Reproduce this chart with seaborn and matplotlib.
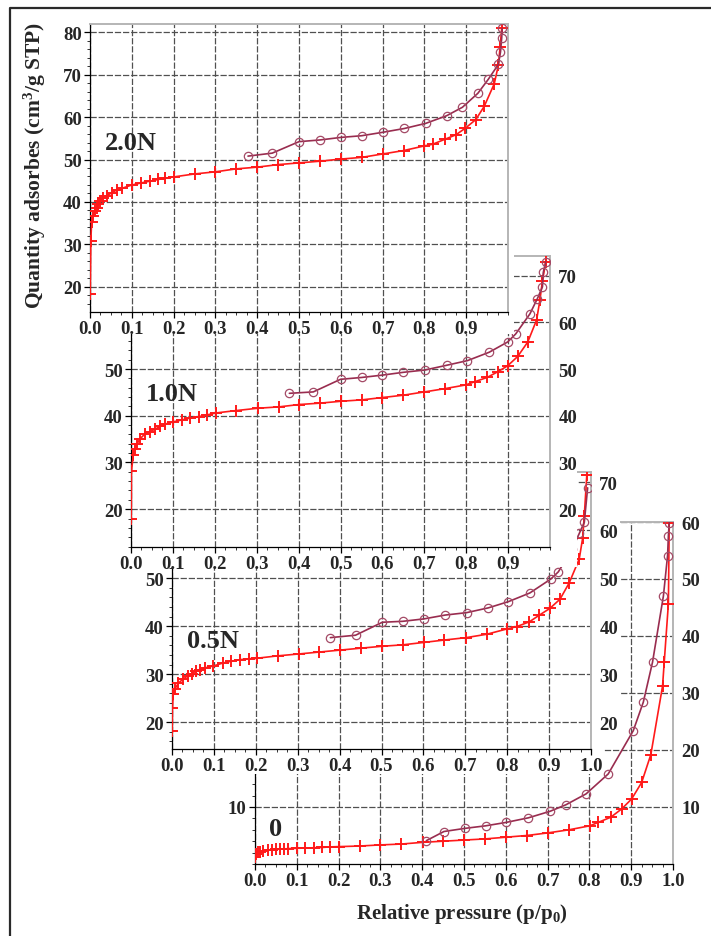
import matplotlib
matplotlib.use("Agg")
import matplotlib.pyplot as plt
from matplotlib.patches import Polygon
from matplotlib.lines import Line2D
from matplotlib.ticker import MultipleLocator, FormatStrFormatter, FixedLocator
import seaborn as sns

# ---- data: relative pressure p/p0 and quantity adsorbed (cm3/g STP) ----
p_ads_20 = [0.0005, 0.002, 0.004, 0.008, 0.012, 0.016, 0.02, 0.024, 0.03, 0.04, 0.053, 0.065,
            0.076, 0.1, 0.123, 0.143, 0.163, 0.18, 0.2, 0.25, 0.3, 0.35, 0.4, 0.45, 0.5, 0.55,
            0.6, 0.65, 0.7, 0.75, 0.8, 0.82, 0.85, 0.875, 0.897, 0.923, 0.943, 0.967, 0.977,
            0.981, 0.985]
v_ads_20 = [18.4, 30.9, 35.4, 36.8, 37.8, 38.7, 39.5, 40.3, 40.9, 41.5, 42.2, 42.9,
            43.2, 44.0, 44.5, 44.9, 45.3, 45.6, 45.9, 46.6, 47.1, 47.8, 48.2, 48.8, 49.2, 49.6,
            50.1, 50.5, 51.3, 52.1, 53.2, 53.6, 54.8, 55.8, 57.3, 59.4, 62.5, 67.8, 72.2,
            76.4, 80.9]
p_des_20 = [0.378, 0.436, 0.5, 0.55, 0.6, 0.65, 0.7, 0.752, 0.803, 0.853, 0.891, 0.928,
            0.953, 0.977, 0.982, 0.985, 0.986]
v_des_20 = [50.8, 51.5, 54.2, 54.6, 55.2, 55.6, 56.4, 57.3, 58.5, 60.3, 62.3, 65.6,
            68.9, 72.4, 75.3, 78.7, 80.9]

p_ads_10 = [0.0005, 0.001, 0.0055, 0.01, 0.014, 0.021, 0.033, 0.045, 0.057, 0.069, 0.081,
            0.101, 0.121, 0.141, 0.162, 0.182, 0.203, 0.25, 0.302, 0.353, 0.401, 0.451, 0.501,
            0.551, 0.6, 0.65, 0.7, 0.749, 0.799, 0.821, 0.85, 0.875, 0.899, 0.923, 0.947,
            0.968, 0.976, 0.982, 0.99]
v_ads_10 = [18.0, 28.1, 31.6, 32.9, 33.9, 35.0, 36.1, 36.6, 37.1, 37.7, 38.2,
            38.7, 39.1, 39.5, 39.8, 40.2, 40.6, 41.1, 41.6, 41.9, 42.4, 42.7, 43.1,
            43.4, 43.9, 44.4, 45.1, 45.8, 46.6, 47.3, 48.2, 49.4, 50.7, 52.7, 55.8,
            60.5, 64.8, 68.9, 73.0]
p_des_10 = [0.378, 0.435, 0.5, 0.551, 0.6, 0.65, 0.702, 0.753, 0.803, 0.855, 0.899, 0.918,
            0.952, 0.97, 0.982, 0.984, 0.99]
v_des_10 = [44.8, 45.1, 47.8, 48.2, 48.7, 49.3, 49.8, 50.8, 51.8, 53.6, 55.8, 57.5,
            61.8, 65.1, 67.6, 70.7, 73.0]

p_ads_05 = [0.0005, 0.001, 0.003, 0.007, 0.015, 0.027, 0.037, 0.047, 0.057, 0.067, 0.079,
            0.099, 0.121, 0.142, 0.162, 0.183, 0.202, 0.252, 0.303, 0.352, 0.401, 0.45, 0.502,
            0.551, 0.601, 0.65, 0.702, 0.751, 0.799, 0.823, 0.853, 0.877, 0.902, 0.926, 0.948,
            0.972, 0.98, 0.984, 0.99]
v_ads_05 = [18.2, 22.9, 25.8, 26.9, 28.1, 29.0, 29.6, 30.1, 30.6, 30.9, 31.3,
            31.7, 32.3, 32.7, 33.0, 33.2, 33.3, 33.8, 34.2, 34.6, 35.0, 35.4, 35.8,
            36.1, 36.6, 37.1, 37.6, 38.3, 39.4, 39.9, 40.9, 42.3, 43.7, 45.6, 49.0,
            54.0, 58.3, 63.0, 71.5]
p_des_05 = [0.378, 0.438, 0.502, 0.551, 0.601, 0.652, 0.703, 0.755, 0.803, 0.854, 0.904,
            0.922, 0.955, 0.972, 0.984, 0.992]
v_des_05 = [37.6, 38.1, 40.8, 41.0, 41.5, 42.3, 42.8, 43.8, 45.1, 46.9, 49.8,
            51.3, 56.0, 59.3, 61.6, 68.8]

p_ads_00 = [0.0005, 0.002, 0.008, 0.013, 0.02, 0.03, 0.04, 0.05, 0.06, 0.07, 0.08, 0.1,
            0.12, 0.14, 0.16, 0.18, 0.2, 0.25, 0.3, 0.35, 0.401, 0.45, 0.5, 0.55, 0.6, 0.65,
            0.7, 0.751, 0.801, 0.821, 0.851, 0.877, 0.901, 0.925, 0.947, 0.975, 0.979,
            0.989, 0.991]
v_ads_00 = [1.2, 1.75, 2.05, 2.15, 2.3, 2.45, 2.5, 2.6, 2.6, 2.65, 2.7, 2.75,
            2.8, 2.85, 2.9, 3.0, 3.05, 3.15, 3.35, 3.5, 3.8, 4.0, 4.2, 4.4, 4.7, 5.0,
            5.45, 6.0, 6.7, 7.3, 8.2, 9.65, 11.4, 14.3, 19.2, 31.2, 35.4,
            45.7, 59.9]
p_des_00 = [0.41, 0.452, 0.502, 0.552, 0.601, 0.654, 0.706, 0.744, 0.792, 0.845, 0.905,
            0.929, 0.951, 0.977, 0.987, 0.989, 0.991]
v_des_00 = [4.1, 5.7, 6.25, 6.7, 7.3, 8.1, 9.25, 10.4, 12.3, 15.8, 23.4,
            28.4, 35.4, 47.0, 54.1, 57.6, 59.9]

sample_labels = ["2.0N", "1.0N", "0.5N", "0"]

ADS_COLOR = "#ff1a1a"
DES_COLOR = "#992c4f"
DES_EDGE = "#a44a66"

sns.set_style("white")
plt.rcParams["font.family"] = ["Liberation Serif", "DejaVu Serif"]
plt.rcParams["font.weight"] = "bold"
plt.rcParams["mathtext.fontset"] = "custom"
plt.rcParams["mathtext.rm"] = "Liberation Serif:bold"
plt.rcParams["mathtext.bf"] = "Liberation Serif:bold"
plt.rcParams["mathtext.it"] = "Liberation Serif:bold"

W, H = 711, 937
fig = plt.figure(figsize=(W / 100, H / 100), dpi=100)


def fx(x):
    return x / W


def fy(y):
    return 1 - y / H


def box(x0, y0, x1, y1):
    return [fx(x0), fy(y1), (x1 - x0) / W, (y1 - y0) / H]


def draw_panel(rect, z, p_ads, v_ads, p_des, v_des, ylim, yticks, xmax_tick, right_labels,
               left_max, label, label_xy, cover):
    ax = fig.add_axes(rect)
    ax.set_zorder(z)
    ax.set_facecolor("white")

    sns.lineplot(x=p_ads, y=v_ads, ax=ax, color=ADS_COLOR, lw=1.2, sort=False,
                 estimator=None, marker="+", markersize=9, markeredgewidth=1.4,
                 markeredgecolor=ADS_COLOR, zorder=3)
    sns.lineplot(x=p_des, y=v_des, ax=ax, color=DES_COLOR, lw=1.2, sort=False,
                 estimator=None, marker="o", markersize=6, markeredgewidth=0.9,
                 markeredgecolor=DES_EDGE, markerfacecolor="none", zorder=3)

    ax.set_xlim(0, 1.0)
    ax.set_ylim(*ylim)
    xt = [i / 10 for i in range(int(round(xmax_tick * 10)) + 1)]
    ax.xaxis.set_major_locator(FixedLocator(xt))
    ax.xaxis.set_major_formatter(FormatStrFormatter("%.1f"))
    ax.xaxis.set_minor_locator(MultipleLocator(0.025))
    ax.yaxis.set_major_locator(FixedLocator(yticks))
    ax.yaxis.set_major_formatter(FormatStrFormatter("%d"))
    ax.yaxis.set_minor_locator(MultipleLocator(2))

    ax.grid(True, which="major", color="#505050", linestyle=(0, (5, 1.5)), linewidth=0.9)
    ax.set_axisbelow(True)
    ax.tick_params(axis="both", which="major", direction="out", length=4, width=0.9,
                   color="black", labelsize=13.5, pad=2)
    ax.tick_params(axis="both", which="minor", direction="out", length=2.5, width=0.7,
                   color="#333333")
    ax.tick_params(axis="y", which="both", left=True, right=False, labelright=right_labels)
    ax.tick_params(axis="x", which="both", bottom=True, top=False)

    # left labels that sit under the panel above are not drawn
    fig.canvas.draw()
    for tick, val in zip(ax.yaxis.get_major_ticks(), yticks):
        if val > left_max:
            tick.label1.set_visible(False)

    for side in ["left", "bottom"]:
        ax.spines[side].set_color("black")
        ax.spines[side].set_linewidth(0.9)
    for side in ["top", "right"]:
        ax.spines[side].set_color("#b5b5b5")
        ax.spines[side].set_linewidth(1.4)

    ax.set_xlabel("")
    ax.set_ylabel("")
    ax.text(label_xy[0], label_xy[1], label, transform=ax.transAxes, ha="center",
            va="center", fontsize=19, fontweight="bold")

    if cover is not None:
        poly = Polygon([(fx(x), fy(y)) for x, y in cover], closed=True, transform=fig.transFigure,
                       facecolor="white", edgecolor="none", zorder=z - 0.5)
        fig.add_artist(poly)
    return ax


# panel 1: 2.0N (top-most)
draw_panel(box(90, 25, 508, 313), 8, p_ads_20, v_ads_20, p_des_20, v_des_20,
           (14.1, 81.9), [20, 30, 40, 50, 60, 70, 80], 0.9, False, 80,
           sample_labels[0], (0.098, 0.59),
           [(14, 12), (514, 12), (514, 335), (14, 335)])
# panel 2: 1.0N
draw_panel(box(131, 257, 550, 548), 6, p_ads_10, v_ads_10, p_des_10, v_des_10,
           (11.9, 74.2), [20, 30, 40, 50, 60, 70], 0.9, True, 50,
           sample_labels[1], (0.098, 0.529),
           [(95, 250), (577, 250), (577, 568), (95, 568)])
# panel 3: 0.5N
draw_panel(box(172, 473, 591, 750), 4, p_ads_05, v_ads_05, p_des_05, v_des_05,
           (14.4, 72.1), [20, 30, 40, 50, 60, 70], 1.0, True, 50,
           sample_labels[2], (0.098, 0.39),
           [(140, 465), (620, 465), (620, 740), (603, 740), (603, 775), (140, 775)])
# panel 4: 0 (bottom-most)
draw_panel(box(255, 523, 673, 865), 2, p_ads_00, v_ads_00, p_des_00, v_des_00,
           (0, 60), [10, 20, 30, 40, 50, 60], 1.0, True, 10,
           sample_labels[3], (0.05, 0.105), None)

fig.text(fx(35), fy(165), "Quantity adsorbes (cm$\\mathregular{^3}$/g STP)", rotation=90,
         ha="center", va="center", fontsize=15.5, fontweight="bold", zorder=20)
fig.text(fx(462), fy(914), "Relative pressure (p/p$\\mathregular{_0}$)", ha="center",
         va="center", fontsize=15, fontweight="bold", zorder=20)

# outer frame (left and top edges)
fig.add_artist(Line2D([fx(10), fx(10), 1.0], [0.0, fy(9), fy(9)], transform=fig.transFigure,
                      color="#2a2a2a", linewidth=1.6, zorder=30))

fig.savefig("out.png", dpi=100)
